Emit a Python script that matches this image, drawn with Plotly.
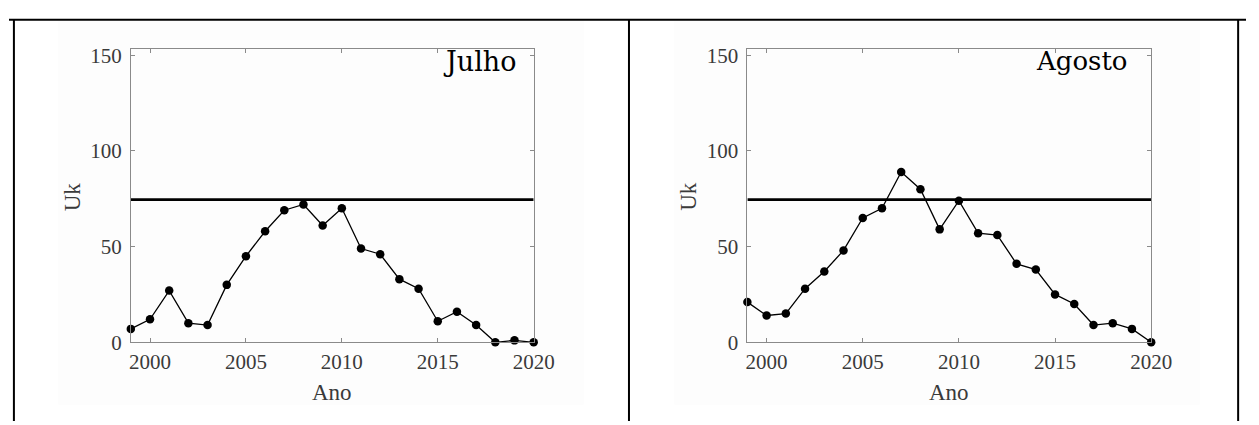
import plotly.graph_objects as go

# ---- data ----
years = list(range(1999, 2021))
uk_julho = [7, 12, 27, 10, 9, 30, 45, 58, 69, 72, 61, 70, 49, 46, 33, 28, 11, 16, 9, 0, 1, 0]
uk_agosto = [21, 14, 15, 28, 37, 48, 65, 70, 89, 80, 59, 74, 57, 56, 41, 38, 25, 20, 9, 10, 7, 0]
critical_value = 74.55
panel_titles = ["Julho", "Agosto"]
x_ticks = [2000, 2005, 2010, 2015, 2020]
y_ticks = [0, 50, 100, 150]
x_title = "Ano"
y_title = "Uk"

W, H = 1259, 425


def px(x):
    return x / W


def py(y):
    return 1 - y / H


AX_TOP, AX_BOT = 37, 343
panels = [(124, 534), (751.5, 1162.5)]
series = [uk_julho, uk_agosto]

fig = go.Figure()

serif = "Liberation Serif, Times New Roman, serif"
tick_font = dict(family=serif, size=21, color="#3a3a3a")
axis_col = "#8a8a8a"

for i, (vals, (x0, x1)) in enumerate(zip(series, panels)):
    xa = "x" if i == 0 else "x2"
    ya = "y" if i == 0 else "y2"
    fig.add_trace(go.Scatter(
        x=[years[0], years[-1]], y=[critical_value, critical_value],
        mode="lines", line=dict(color="black", width=2.8),
        xaxis=xa, yaxis=ya, showlegend=False, hoverinfo="skip"))
    fig.add_trace(go.Scatter(
        x=years, y=vals, mode="lines+markers",
        line=dict(color="black", width=1.3),
        marker=dict(color="black", size=8.5),
        xaxis=xa, yaxis=ya, showlegend=False, cliponaxis=False))
    axcommon = dict(showline=True, linecolor=axis_col, linewidth=1, mirror="allticks",
                    ticks="inside", ticklen=4, tickcolor=axis_col, tickwidth=1,
                    showgrid=False, zeroline=False, tickfont=tick_font)
    xkey = "xaxis" if i == 0 else "xaxis2"
    ykey = "yaxis" if i == 0 else "yaxis2"
    fig.update_layout(**{
        xkey: dict(domain=[px(x0), px(x1)], range=[1999, 2020], tickvals=x_ticks,
                   anchor=ya, ticklabelstandoff=1, **axcommon),
        ykey: dict(domain=[py(AX_BOT), py(AX_TOP)], range=[0, 153.5], tickvals=y_ticks,
                   anchor=xa, ticklabelstandoff=4, **axcommon),
    })
    # axis titles
    fig.add_annotation(x=px((x0 + x1) / 2), y=py(395), xref="paper", yref="paper",
                       text=x_title, showarrow=False, xanchor="center", yanchor="middle",
                       font=dict(family=serif, size=23, color="#3a3a3a"))
    fig.add_annotation(x=px(x0 - 60), y=py(191), xref="paper", yref="paper",
                       text=y_title, showarrow=False, textangle=-90, xanchor="center", yanchor="middle",
                       font=dict(family=serif, size=23, color="#3a3a3a"))

# panel labels
fig.add_annotation(x=px(519), y=py(50), xref="paper", yref="paper", text=panel_titles[0],
                   showarrow=False, xanchor="right", yanchor="middle",
                   font=dict(family="DejaVu Serif, serif", size=27, color="black"))
fig.add_annotation(x=px(1141), y=py(50), xref="paper", yref="paper", text=panel_titles[1],
                   showarrow=False, xanchor="right", yanchor="middle",
                   font=dict(family="DejaVu Serif, serif", size=26, color="black"))

shapes = []
# table borders
shapes.append(dict(type="line", xref="paper", yref="paper", x0=0, x1=1, y0=py(7), y1=py(7),
                   line=dict(color="black", width=2)))
for xv in [5, 631, 1251]:
    shapes.append(dict(type="line", xref="paper", yref="paper", x0=px(xv), x1=px(xv), y0=py(7), y1=0,
                       line=dict(color="black", width=2)))
# pasted image backgrounds (cover half of the top border)
for (a, b) in [(50, 585), (677, 1212)]:
    shapes.append(dict(type="rect", xref="paper", yref="paper", x0=px(a), x1=px(b), y0=py(408), y1=py(7.5),
                       fillcolor="#fdfdfd", line=dict(width=0), layer="below"))
fig.update_layout(shapes=shapes)

fig.update_layout(width=W, height=H, margin=dict(l=0, r=0, t=0, b=0),
                  paper_bgcolor="white", plot_bgcolor="rgba(0,0,0,0)", showlegend=False)

fig.write_html("out.html")
